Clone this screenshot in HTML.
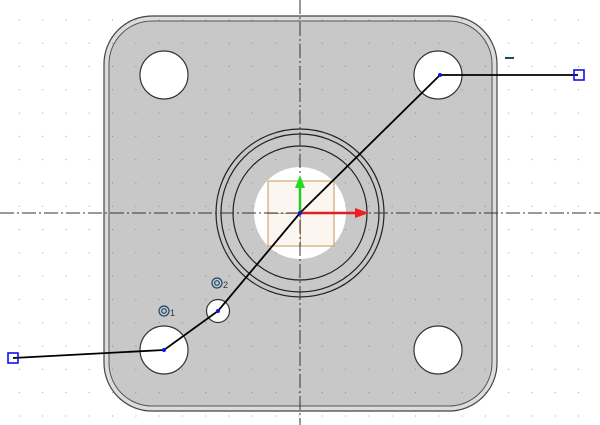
<!DOCTYPE html>
<html><head><style>html,body{margin:0;padding:0;background:#fff}svg{display:block}</style></head>
<body>
<svg width="600" height="425" viewBox="0 0 600 425" xmlns="http://www.w3.org/2000/svg">
<defs>
<pattern id="g" x="-3.5" y="-3" width="23.3" height="23.3" patternUnits="userSpaceOnUse">
<rect x="22.5" y="22.5" width="1.4" height="1.4" fill="#666"/>
</pattern>
</defs>
<rect width="600" height="425" fill="#fff"/>
<rect x="104" y="16" width="393" height="395" rx="48" fill="#dcdcdc" stroke="#444" stroke-width="1.2"/>
<rect x="109" y="21" width="383" height="385" rx="43" fill="#c8c8c8" stroke="#555" stroke-width="1"/>
<rect width="600" height="425" fill="url(#g)"/>
<g fill="#fff" stroke="#333" stroke-width="1.2">
<circle cx="164" cy="75" r="24"/>
<circle cx="438" cy="75" r="24"/>
<circle cx="164" cy="350" r="24"/>
<circle cx="438" cy="350" r="24"/>
<circle cx="218" cy="311" r="11.5"/>
</g>
<g fill="none" stroke="#222" stroke-width="1.2">
<circle cx="300" cy="213" r="84"/>
<circle cx="300" cy="213" r="79"/>
<circle cx="300" cy="213" r="67"/>
</g>
<circle cx="300" cy="213" r="46" fill="#fff"/>
<rect x="268" y="181" width="66" height="65" fill="#fbf7f0" stroke="#c8955a" stroke-width="1"/>
<line x1="268" y1="213.5" x2="334" y2="213.5" stroke="#c8955a" stroke-width="0.8"/>
<line x1="300.5" y1="181" x2="300.5" y2="246" stroke="#c8955a" stroke-width="0.8"/>
<g stroke="#333" stroke-width="1" stroke-dasharray="14,3,2,3">
<line x1="0" y1="213" x2="600" y2="213"/>
<line x1="300" y1="0" x2="300" y2="425"/>
</g>
<polyline points="13,358 164,350 218,311 300,213 440,75 578,75" fill="none" stroke="#000" stroke-width="1.8"/>
<line x1="300" y1="213" x2="300" y2="184" stroke="#22cc22" stroke-width="2.5"/>
<polygon points="295,188 305,188 300,175" fill="#22dd22"/>
<line x1="300" y1="213" x2="357" y2="213" stroke="#e02020" stroke-width="2.5"/>
<polygon points="355,208 355,218 369,213" fill="#ee2020"/>
<g fill="#1010ee">
<circle cx="300" cy="213" r="2"/><circle cx="164" cy="350" r="2"/><circle cx="218" cy="311" r="2"/><circle cx="440" cy="75" r="2"/>
</g>
<rect x="8" y="353" width="10" height="10" fill="none" stroke="#1010ee" stroke-width="1.6"/>
<rect x="574" y="70" width="10" height="10" fill="none" stroke="#1010ee" stroke-width="1.6"/>
<rect x="505" y="57" width="9" height="2" fill="#1a4a66"/>
<g fill="none" stroke="#1a4a66" stroke-width="1.2">
<circle cx="164" cy="311" r="5"/><circle cx="164" cy="311" r="2.3"/>
<circle cx="217" cy="283" r="5"/><circle cx="217" cy="283" r="2.3"/>
</g>
<text x="170" y="316" font-family="Liberation Sans, sans-serif" font-size="9" fill="#333">1</text>
<text x="223" y="288" font-family="Liberation Sans, sans-serif" font-size="9" fill="#333">2</text>
</svg>
</body></html>
